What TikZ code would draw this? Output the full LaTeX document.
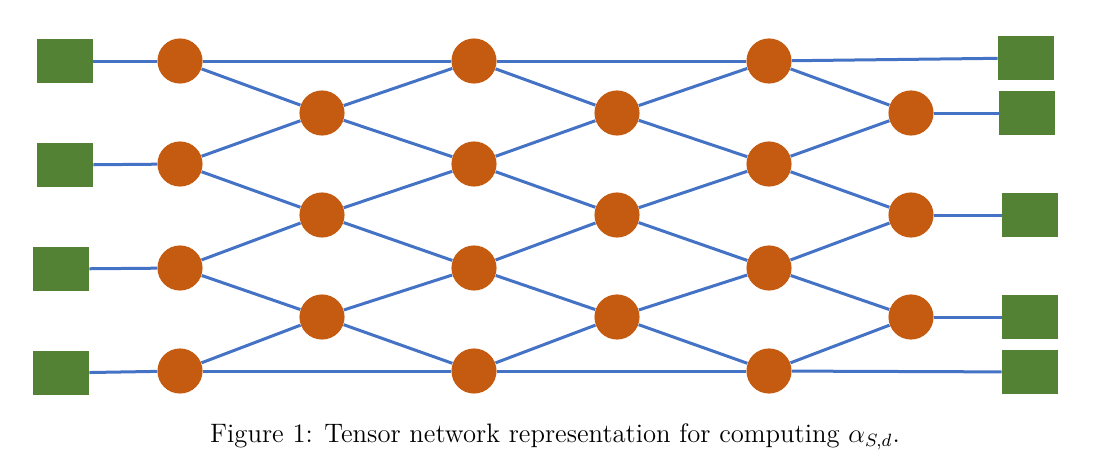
\documentclass[tikz,border=0pt]{standalone}
\usetikzlibrary{calc}
\definecolor{cCore}{HTML}{C55A11}
\definecolor{cLeaf}{HTML}{548235}
\definecolor{cBond}{HTML}{4472C4}

\begin{document}
\begin{tikzpicture}[
    x=0.45pt, y=-0.45pt,
    core/.style={circle, fill=cCore, minimum size=20.3pt, inner sep=0pt},
    leaf/.style={rectangle, fill=cLeaf, minimum width=25.2pt,
                 minimum height=19.8pt, inner sep=0pt},
    bond/.style={line width=1.35pt, cBond},
    captext/.style={font=\fontsize{12}{14}\selectfont, inner sep=2pt},
]
\useasboundingbox (0,0) rectangle (1111,469);

% ===================== Nucleos =====================
\foreach \c/\x in {1/180, 3/474, 5/769} {
    \foreach \r/\y in {1/61, 2/164, 3/268, 4/371} {
        \node[core] (c\c\r) at (\x,\y) {};
    }
}
\foreach \c/\x in {2/322, 4/617, 6/911} {
    \foreach \r/\y in {1/113, 2/215, 3/317} {
        \node[core] (c\c\r) at (\x,\y) {};
    }
}

% ===================== Hojas =====================
\foreach \r/\x/\y in {1/65/61, 2/65/165, 3/61/269, 4/61/373} {
    \node[leaf] (l\r) at (\x,\y) {};
}
\foreach \r/\x/\y in {1/1026/58, 2/1027/113, 3/1030/215, 4/1030/317, 5/1030/372} {
    \node[leaf] (r\r) at (\x,\y) {};
}

% ===================== Enlaces =====================
\foreach \r in {1,...,4} {
    \draw[bond] (l\r) -- (c1\r);
}
\draw[bond] (c11) -- (c31);
\draw[bond] (c31) -- (c51);
\draw[bond] (c14) -- (c34);
\draw[bond] (c34) -- (c54);

\foreach \c/\n in {1/2, 3/4, 5/6} {
    \foreach \r/\s in {1/2, 2/3, 3/4} {
        \draw[bond] (c\c\r) -- (c\n\r);
        \draw[bond] (c\c\s) -- (c\n\r);
    }
}
\foreach \c/\n in {2/3, 4/5} {
    \foreach \r/\s in {1/2, 2/3, 3/4} {
        \draw[bond] (c\c\r) -- (c\n\r);
        \draw[bond] (c\c\r) -- (c\n\s);
    }
}

\draw[bond] (c51) -- (r1);
\draw[bond] (c61) -- (r2);
\draw[bond] (c62) -- (r3);
\draw[bond] (c63) -- (r4);
\draw[bond] (c54) -- (r5);

% ===================== Pie =====================
\node[captext] (caption) at (555,437)
      {Figure 1: Tensor network representation for computing $\alpha_{S,d}$.};

\end{tikzpicture}
\end{document}
